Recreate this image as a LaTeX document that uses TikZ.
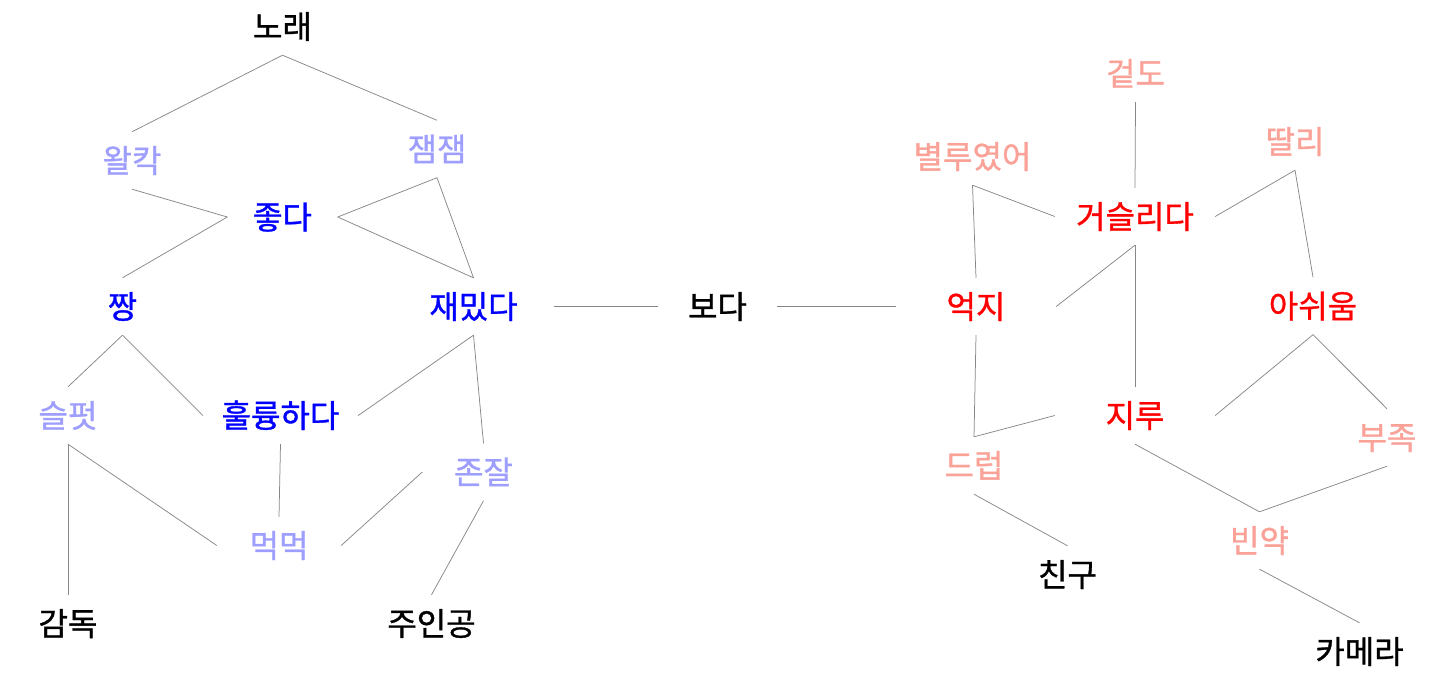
\documentclass[tikz,border=0pt]{standalone}
\usepackage{fontspec}
\newfontfamily\kr[FakeBold=1]{Noto Sans CJK KR}
\definecolor{lblue}{RGB}{158,158,255}
\definecolor{lred}{RGB}{250,162,152}
\definecolor{edgegray}{RGB}{135,135,135}
\tikzset{
  wd/.style={
    font=\kr\fontsize{32}{36}\selectfont,
    inner sep=0pt, minimum height=57pt, minimum width=60pt,
    text height=24pt, text depth=0pt, anchor=center},
  hw/.style={minimum width=#1*2pt},
  kblack/.style={wd, text=black},
  kblue/.style={wd, text=blue},
  klblue/.style={wd, text=lblue},
  kred/.style={wd, text=red},
  klred/.style={wd, text=lred},
  edge/.style={draw=edgegray, line width=0.75pt}
}
\begin{document}
\begin{tikzpicture}[x=1pt,y=-1pt]
\useasboundingbox (0,0) rectangle (1437,693);
% left group
\node[kblack] (norae) at (282.5,26.5) {노래};
\node[klblue] (walkak) at (132,160.5) {왈칵};
\node[klblue] (jaemjaem) at (437,149) {잼잼};
\node[kblue, hw=55] (jota) at (282.5,217) {좋다};
\node[kblue] (jjang) at (122.5,306.5) {짱};
\node[kblue, hw=80] (jaemitda) at (473.5,306.5) {재밌다};
\node[kblack, hw=59.5] (boda) at (717.5,306.5) {보다};
\node[klblue] (seulpeot) at (68,415.5) {슬펏};
\node[kblue, hw=77.5] (hullyung) at (280.5,415.5) {훌륭하다};
\node[klblue, hw=61] (jonjal) at (483.5,472) {존잘};
\node[klblue, hw=62] (meok) at (279,545.5) {먹먹};
\node[kblack] (gamdok) at (68,623.5) {감독};
\node[kblack] (juingong) at (431.5,623.5) {주인공};
% right group
\node[klred] (geotdo) at (1135.5,73.5) {겉도};
\node[klred] (byeollu) at (972.5,156.5) {별루였어};
\node[klred] (ttali) at (1295,141.5) {딸리};
\node[kred, hw=80] (geoseul) at (1135,216.5) {거슬리다};
\node[kred, hw=80] (eokji) at (976,306.5) {억지};
\node[kred] (aswium) at (1313,306) {아쉬움};
\node[kred, hw=80] (jiru) at (1135,415.5) {지루};
\node[klred] (bujok) at (1387,437.5) {부족};
\node[klred] (deureop) at (974,465.5) {드럽};
\node[klred] (binyak) at (1259.5,540.5) {빈약};
\node[kblack] (chingu) at (1067.5,574.5) {친구};
\node[kblack] (camera) at (1359.5,651.5) {카메라};
% edges
\draw[edge] (norae.south) -- (walkak.north);
\draw[edge] (norae.south) -- (jaemjaem.north);
\draw[edge] (walkak.south) -- (jota.west);
\draw[edge] (jota.west) -- (jjang.north);
\draw[edge] (jaemjaem.south) -- (jota.east);
\draw[edge] (jota.east) -- (jaemitda.north);
\draw[edge] (jaemjaem.south) -- (jaemitda.north);
\draw[edge] (jjang.south) -- (seulpeot.north);
\draw[edge] (jjang.south) -- (hullyung.west);
\draw[edge] (jaemitda.south) -- (hullyung.east);
\draw[edge] (jaemitda.south) -- (jonjal.north);
\draw[edge] (jaemitda.east) -- (boda.west);
\draw[edge] (boda.east) -- (eokji.west);
\draw[edge] (seulpeot.south) -- (gamdok.north);
\draw[edge] (seulpeot.south) -- (meok.west);
\draw[edge] (hullyung.south) -- (meok.north);
\draw[edge] (jonjal.west) -- (meok.east);
\draw[edge] (jonjal.south) -- (juingong.north);
\draw[edge] (geotdo.south) -- (geoseul.north);
\draw[edge] (byeollu.south) -- (geoseul.west);
\draw[edge] (byeollu.south) -- (eokji.north);
\draw[edge] (ttali.south) -- (geoseul.east);
\draw[edge] (ttali.south) -- (aswium.north);
\draw[edge] (geoseul.south) -- (eokji.east);
\draw[edge] (geoseul.south) -- (jiru.north);
\draw[edge] (eokji.south) -- (deureop.north);
\draw[edge] (jiru.west) -- (deureop.north);
\draw[edge] (aswium.south) -- (jiru.east);
\draw[edge] (aswium.south) -- (bujok.north);
\draw[edge] (jiru.south) -- (binyak.north);
\draw[edge] (bujok.south) -- (binyak.north);
\draw[edge] (deureop.south) -- (chingu.north);
\draw[edge] (binyak.south) -- (camera.north);
\end{tikzpicture}
\end{document}
